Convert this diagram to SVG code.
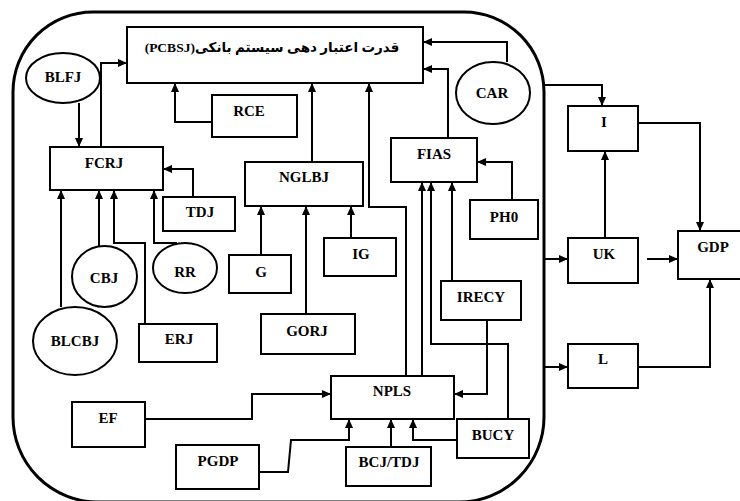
<svg xmlns="http://www.w3.org/2000/svg" width="740" height="501" viewBox="0 0 740 501">
<style>
.b{fill:#fff;stroke:#000;stroke-width:2}
.c{fill:none;stroke:#000;stroke-width:2}
.t{font-family:"Liberation Serif","Times New Roman","DejaVu Serif",serif;font-weight:bold;font-size:15px;text-anchor:middle;fill:#000}
.fa{font-family:"Liberation Serif","Times New Roman","DejaVu Sans",serif;font-weight:bold;font-size:13.5px;text-anchor:middle;fill:#000}
</style>
<defs>
<marker id="ah" markerUnits="userSpaceOnUse" markerWidth="9" markerHeight="8" refX="9" refY="4" orient="auto">
<path d="M0,0 L9,4 L0,8 z" fill="#000"/>
</marker>
</defs>
<rect width="740" height="501" fill="#fff"/>
<path id="container" d="M93 12 H464 A80 80 0 0 1 544 92 V417 A85 85 0 0 1 459 502 H98 A85 85 0 0 1 13 417 V92 A80 80 0 0 1 93 12 Z" fill="none" stroke="#000" stroke-width="3"/>
<g id="connectors" class="c" marker-end="url(#ah)">
<path d="M79 103 V147"/>
<path d="M101 147 V63 H127"/>
<path d="M212 122 H175 V83"/>
<path d="M193 197 V169 H163"/>
<path d="M61 307 V190"/>
<path d="M99 246 V190"/>
<path d="M145 324 V243 H114 V190"/>
<path d="M177 243 H154 V190"/>
<path d="M312 162 V83"/>
<path d="M261 255 V206"/>
<path d="M351 238 V206"/>
<path d="M306 314 V206"/>
<path d="M406 376 V207 H369 V83"/>
<path d="M422 376 V182"/>
<path d="M508 419 V344 H431 V182"/>
<path d="M452 281 V182"/>
<path d="M448 138 V69 H423"/>
<path d="M507 62 V42 H423"/>
<path d="M512 200 V162 H477"/>
<path d="M487 320 V394 H454"/>
<path d="M145 419 H252 V394 H331"/>
<path d="M259 472 H288 L291 440 H349 V419"/>
<path d="M391 447 V419"/>
<path d="M457 440 H413 V419"/>
<path d="M543 85 H602 V106"/>
<path d="M638 123 H700 V231"/>
<path d="M605 238 V151"/>
<path d="M543 259 H568"/>
<path d="M647 259 H678"/>
<path d="M543 367 H568"/>
<path d="M638 367 H710 V279"/>
</g>
<g id="PCBSJ"><rect class="b" x="127" y="27" width="296" height="56"/><text class="fa" x="272" y="52" direction="rtl">قدرت اعتبار دهی سیستم بانکی(PCBSJ)</text></g>
<g id="BLFJ"><ellipse class="b" cx="63" cy="78" rx="37" ry="25"/><text class="t" x="63" y="82">BLFJ</text></g>
<g id="FCRJ"><rect class="b" x="50" y="147" width="113" height="43"/><text class="t" x="104" y="168">FCRJ</text></g>
<g id="RCE"><rect class="b" x="212" y="95" width="85" height="42"/><text class="t" x="249" y="116">RCE</text></g>
<g id="TDJ"><rect class="b" x="163" y="197" width="72" height="34"/><text class="t" x="200" y="217">TDJ</text></g>
<g id="CBJ"><ellipse class="b" cx="104.5" cy="276.5" rx="32.5" ry="30.5"/><text class="t" x="104" y="283">CBJ</text></g>
<g id="RR"><ellipse class="b" cx="185" cy="268" rx="32" ry="25"/><text class="t" x="185" y="277">RR</text></g>
<g id="BLCBJ"><ellipse class="b" cx="75" cy="341" rx="42" ry="34"/><text class="t" x="75" y="346">BLCBJ</text></g>
<g id="ERJ"><rect class="b" x="139" y="324" width="78" height="38"/><text class="t" x="179" y="344">ERJ</text></g>
<g id="NGLBJ"><rect class="b" x="245" y="162" width="118" height="44"/><text class="t" x="304" y="182">NGLBJ</text></g>
<g id="G"><rect class="b" x="229" y="255" width="62" height="38"/><text class="t" x="261" y="277">G</text></g>
<g id="IG"><rect class="b" x="324" y="238" width="72" height="38"/><text class="t" x="361" y="259">IG</text></g>
<g id="GORJ"><rect class="b" x="261" y="314" width="94" height="40"/><text class="t" x="307" y="336">GORJ</text></g>
<g id="FIAS"><rect class="b" x="391" y="138" width="86" height="44"/><text class="t" x="434" y="159">FIAS</text></g>
<g id="CAR"><ellipse class="b" cx="493" cy="93" rx="37" ry="31"/><text class="t" x="492" y="98">CAR</text></g>
<g id="PH0"><rect class="b" x="470" y="200" width="68" height="39"/><text class="t" x="504" y="222">PH0</text></g>
<g id="IRECY"><rect class="b" x="441" y="281" width="80" height="39"/><text class="t" x="481" y="302">IRECY</text></g>
<g id="NPLS"><rect class="b" x="331" y="376" width="123" height="43"/><text class="t" x="392" y="396">NPLS</text></g>
<g id="BUCY"><rect class="b" x="457" y="419" width="72" height="39"/><text class="t" x="493" y="440">BUCY</text></g>
<g id="BCJTDJ"><rect class="b" x="346" y="447" width="85" height="39"/><text class="t" x="389" y="467">BCJ/TDJ</text></g>
<g id="EF"><rect class="b" x="72" y="402" width="73" height="45"/><text class="t" x="108" y="423">EF</text></g>
<g id="PGDP"><rect class="b" x="176" y="445" width="83" height="44"/><text class="t" x="218" y="466">PGDP</text></g>
<g id="I"><rect class="b" x="568" y="106" width="70" height="45"/><text class="t" x="604" y="127">I</text></g>
<g id="UK"><rect class="b" x="568" y="238" width="70" height="45"/><text class="t" x="604" y="259">UK</text></g>
<g id="L"><rect class="b" x="568" y="344" width="70" height="44"/><text class="t" x="603" y="364">L</text></g>
<g id="GDP"><rect class="b" x="678" y="231" width="70" height="48"/><text class="t" x="713" y="252">GDP</text></g>
</svg>
